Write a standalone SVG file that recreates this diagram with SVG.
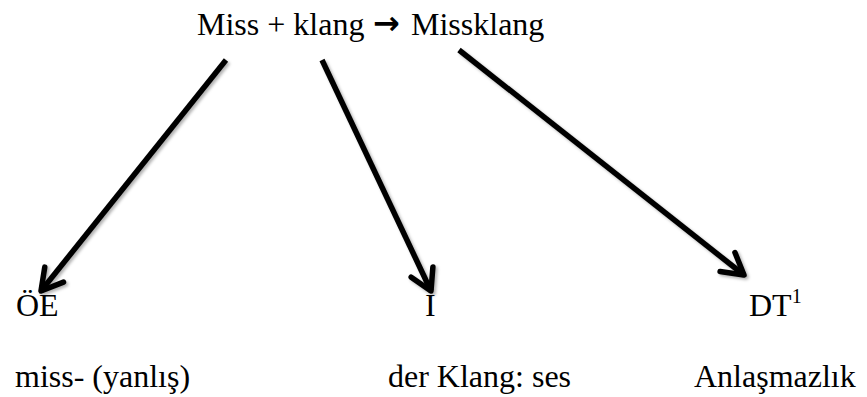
<svg xmlns="http://www.w3.org/2000/svg" width="867" height="397" viewBox="0 0 867 397">
<style>
.t{font-family:"Liberation Serif","Times New Roman",serif;font-size:32px;fill:#000}
.c{stroke:#000;stroke-width:5.5;fill:none;stroke-linecap:butt}
</style>
<defs>
<marker id="ah" markerUnits="userSpaceOnUse" markerWidth="60" markerHeight="60" viewBox="-30 -30 60 60" refX="0" refY="0" orient="auto" overflow="visible">
<path d="M-21,-12 L0,0 L-21,12" fill="none" stroke="#000" stroke-width="5.5" stroke-linecap="round" stroke-linejoin="round"/>
</marker>
<filter id="sh" x="-10%" y="-10%" width="130%" height="130%">
<feDropShadow dx="2" dy="2" stdDeviation="1.5" flood-color="#000" flood-opacity="0.3"/>
</filter>
</defs>
<g id="title">
<text class="t" x="197" y="35">Miss + klang</text>
<text x="373" y="34" style="font-family:'DejaVu Sans',sans-serif;font-weight:bold;font-size:32px">→</text>
<text class="t" x="411" y="35">Missklang</text>
</g>
<g id="connectors" filter="url(#sh)">
<line class="c" x1="226" y1="60" x2="41" y2="291" marker-end="url(#ah)"/>
<line class="c" x1="322" y1="60" x2="431" y2="291" marker-end="url(#ah)"/>
<line class="c" x1="459" y1="50" x2="744" y2="275" marker-end="url(#ah)"/>
</g>
<g id="oe">
<text class="t" x="16" y="316">ÖE</text>
<text class="t" x="15" y="387">miss- (yanlış)</text>
</g>
<g id="i">
<text class="t" x="425" y="316">İ</text>
<text class="t" x="388" y="387">der Klang: ses</text>
</g>
<g id="dt">
<text class="t" x="749" y="316">DT<tspan font-size="20" dy="-13">1</tspan></text>
<text class="t" x="694" y="387">Anlaşmazlık</text>
</g>
</svg>
